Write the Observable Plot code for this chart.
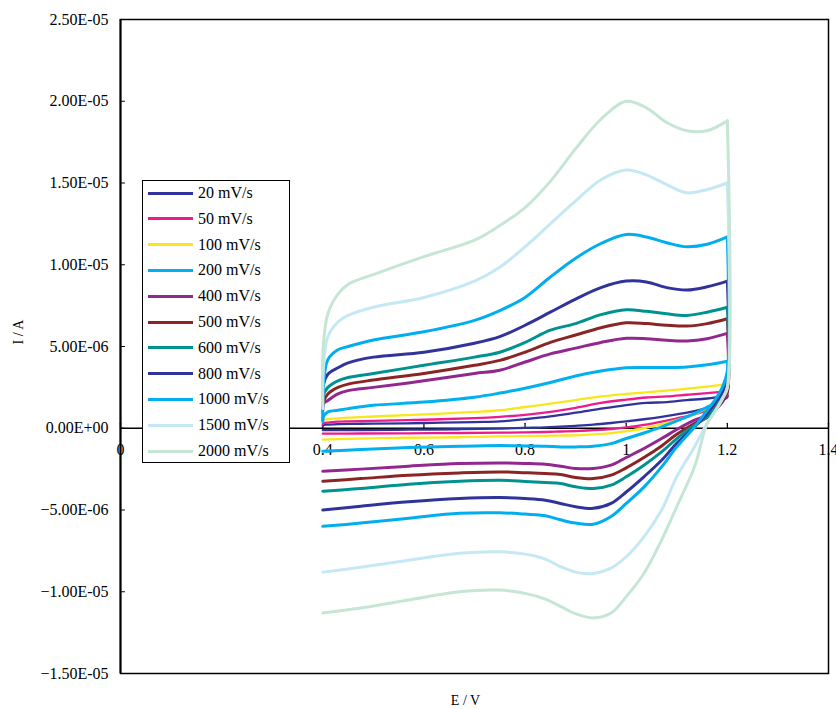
<!DOCTYPE html>
<html><head><meta charset="utf-8">
<script src="https://cdn.jsdelivr.net/npm/d3@7"></script>
<script src="https://cdn.jsdelivr.net/npm/@observablehq/plot@0.6"></script>
<style>
body{margin:0;background:#fff;}
#wrap{position:relative;width:836px;height:709px;}
#legend{position:absolute;left:142px;top:180px;width:148px;height:283px;border:1px solid #000;background:#fff;box-sizing:border-box;font-family:"Liberation Serif","Times New Roman",serif;font-size:16px;color:#000;}
.row{position:absolute;left:0;height:20px;display:flex;align-items:center;white-space:nowrap;}
.sw{width:45px;height:3px;margin-left:5px;margin-right:5px;}
</style>
</head><body><div id="wrap"><div id="legend"></div></div>
<script>
// Scan rates (legend) and colours
const rates = ["20 mV/s","50 mV/s","100 mV/s","200 mV/s","400 mV/s","500 mV/s","600 mV/s","800 mV/s","1000 mV/s","1500 mV/s","2000 mV/s"];
const colors = ["#30349a","#ec1c8c","#f8e71c","#00b0f0","#92278f","#8b2525","#00928f","#30349a","#00aeef","#c5e8f5","#c5e6d5"];

// Potentials (V) of the read points: forward (anodic) and reverse (cathodic) scans
const eUp   = [0.400,0.401,0.41,0.43,0.45,0.5,0.6,0.7,0.75,0.8,0.85,0.9,0.95,1.0,1.04,1.08,1.12,1.16,1.2];
const eDown = [1.2,1.19,1.175,1.16,1.135,1.1,1.07,1.035,1.0,0.97,0.935,0.9,0.87,0.84,0.8,0.75,0.67,0.57,0.475,0.4];

// Currents in units of 1E-06 A
const up20   = [0.15,0.2,0.22,0.25,0.27,0.28,0.32,0.38,0.42,0.55,0.72,0.95,1.2,1.42,1.55,1.6,1.72,1.82,2.0];
const down20 = [1.9,1.7,1.45,1.25,1.05,0.85,0.7,0.55,0.42,0.32,0.22,0.15,0.1,0.05,0.02,-0.02,-0.06,-0.09,-0.11,-0.12];
const up50   = [0.25,0.3,0.35,0.4,0.42,0.45,0.52,0.62,0.7,0.82,1.0,1.25,1.55,1.75,1.88,1.95,2.05,2.15,2.25];
const down50 = [2.0,1.7,1.35,1.1,0.85,0.6,0.4,0.2,0.05,-0.05,-0.12,-0.17,-0.2,-0.23,-0.25,-0.27,-0.29,-0.31,-0.32,-0.33];
const up100   = [0.4,0.5,0.55,0.6,0.65,0.72,0.85,1.0,1.1,1.3,1.5,1.72,1.95,2.1,2.2,2.3,2.42,2.55,2.7];
const down100 = [2.1,1.8,1.5,1.25,0.85,0.5,0.25,0.0,-0.18,-0.3,-0.38,-0.43,-0.45,-0.47,-0.48,-0.5,-0.55,-0.58,-0.63,-0.69];
const up200   = [0.4,0.7,1.0,1.1,1.2,1.4,1.6,1.9,2.15,2.45,2.8,3.2,3.5,3.7,3.72,3.72,3.75,3.88,4.1];
const down200 = [2.3,1.9,1.5,1.3,0.9,0.45,0.08,-0.29,-0.63,-0.94,-1.1,-1.14,-1.14,-1.1,-1.08,-1.06,-1.1,-1.18,-1.3,-1.41];
const up400   = [1.3,1.5,1.7,2.1,2.3,2.5,2.9,3.35,3.55,4.05,4.55,4.9,5.25,5.5,5.48,5.38,5.34,5.48,5.8];
const down400 = [2.2,1.6,1.1,0.79,0.49,-0.08,-0.63,-1.24,-1.79,-2.26,-2.46,-2.46,-2.32,-2.2,-2.15,-2.12,-2.16,-2.32,-2.5,-2.63];
const up500   = [1.1,1.6,2.1,2.5,2.7,2.95,3.35,3.85,4.15,4.65,5.25,5.7,6.15,6.45,6.4,6.3,6.25,6.4,6.7];
const down500 = [2.3,1.7,1.1,0.65,0.29,-0.37,-1.08,-1.79,-2.42,-2.87,-3.08,-3.01,-2.83,-2.77,-2.72,-2.67,-2.73,-2.87,-3.08,-3.24];
const up600   = [1.3,2.0,2.5,2.9,3.1,3.35,3.85,4.35,4.65,5.25,6.0,6.4,6.95,7.25,7.15,7.0,6.9,7.1,7.4];
const down600 = [2.5,1.8,1.2,0.69,0.18,-0.63,-1.45,-2.26,-2.97,-3.48,-3.69,-3.58,-3.38,-3.32,-3.25,-3.18,-3.24,-3.42,-3.69,-3.85];
const up800   = [1.6,2.6,3.3,3.7,4.0,4.35,4.65,5.2,5.6,6.3,7.1,7.9,8.6,9.0,8.95,8.6,8.45,8.65,9.0];
const down800 = [3.0,2.2,1.5,0.9,0.08,-0.92,-1.96,-2.97,-3.9,-4.6,-4.9,-4.8,-4.6,-4.4,-4.3,-4.24,-4.3,-4.5,-4.77,-5.0];
const up1000   = [0.5,2.5,4.2,4.8,5.0,5.4,5.9,6.6,7.2,8.0,9.25,10.4,11.3,11.85,11.7,11.35,11.1,11.25,11.7];
const down1000 = [3.5,2.5,1.7,1.1,0.08,-1.14,-2.36,-3.6,-4.6,-5.4,-5.87,-5.8,-5.6,-5.35,-5.25,-5.17,-5.2,-5.5,-5.8,-6.0];
const up1500   = [1.2,3.5,5.6,6.5,6.9,7.4,8.0,9.0,9.85,11.1,12.5,13.9,15.2,15.8,15.5,14.9,14.4,14.6,15.0];
const down1500 = [2.5,1.8,1.0,0.3,-1.14,-2.97,-5.0,-6.64,-7.86,-8.55,-8.88,-8.8,-8.47,-8.0,-7.7,-7.56,-7.65,-8.07,-8.5,-8.8];
const up2000   = [1.5,5.0,7.0,8.2,8.8,9.4,10.5,11.5,12.4,13.5,15.1,17.1,18.9,20.0,19.6,18.7,18.2,18.2,18.8];
const down2000 = [2.5,1.8,1.0,0.3,-2.36,-4.8,-6.84,-8.88,-10.3,-11.3,-11.6,-11.35,-10.9,-10.45,-10.1,-9.9,-10.0,-10.5,-11.0,-11.3];

// Axis ticks
const xTicks = [0,0.2,0.4,0.6,0.8,1,1.2,1.4];
const yTicks = [-15,-10,-5,0,5,10,15,20,25];

const ups = [up20,up50,up100,up200,up400,up500,up600,up800,up1000,up1500,up2000];
const downs = [down20,down50,down100,down200,down400,down500,down600,down800,down1000,down1500,down2000];

const fmtY = v => {
  if (v === 0) return "0.00E+00";
  const a = Math.abs(v) * 1e-6;
  const exp = Math.floor(Math.log10(a) + 1e-9);
  const m = a / Math.pow(10, exp);
  const s = m.toFixed(2) + "E" + (exp < 0 ? "-" : "+") + String(Math.abs(exp)).padStart(2, "0");
  return (v < 0 ? "\u2212" : "") + s;
};
const fmtX = v => String(v);

const font = "Liberation Serif, Times New Roman, serif";
const tickShape = {draw(ctx, l) { ctx.moveTo(0, 0); ctx.lineTo(0, -l); }};

const lineMarks = ups.flatMap((u, k) => {
  const upPts = eUp.map((e, j) => ({e, i: u[j]}));
  const downPts = [upPts[upPts.length - 1]].concat(eDown.map((e, j) => ({e, i: downs[k][j]})));
  const sw = k < 3 ? 2.3 : 3;
  return [
    Plot.line(upPts, {x: "e", y: "i", stroke: colors[k], strokeWidth: sw, curve: "catmull-rom"}),
    Plot.line(downPts, {x: "e", y: "i", stroke: colors[k], strokeWidth: sw, curve: "catmull-rom"})
  ];
});

const chart = Plot.plot({
  width: 836, height: 709,
  marginLeft: 120, marginRight: 8, marginTop: 19, marginBottom: 36,
  style: {fontFamily: font, fontSize: "16px", background: "#fff", overflow: "visible"},
  x: {domain: [0, 1.4]},
  y: {domain: [-15, 25]},
  marks: [
    Plot.axisY({ticks: yTicks, tickSize: 0, tickPadding: 12, tickFormat: fmtY, label: null, fontSize: 16}),
    Plot.axisX({ticks: [], label: null}),
    Plot.text(xTicks, {x: d => d, y: 0, dy: 22, text: fmtX, fontSize: 16}),
    Plot.text(["I / A"], {frameAnchor: "left", dx: -102, dy: -2, rotate: -90, fontSize: 14}),
    Plot.text(["E / V"], {frameAnchor: "bottom", dx: -9, dy: 31, fontSize: 14}),
    Plot.ruleY([0], {stroke: "#000", strokeWidth: 1.5}),
    Plot.vector(xTicks, {x: d => d, y: 0, length: 5, rotate: 0, anchor: "start", shape: tickShape, stroke: "#000", strokeWidth: 1.2}),
    Plot.vector(yTicks, {x: 0, y: d => d, length: 4, rotate: 90, anchor: "start", shape: tickShape, stroke: "#000", strokeWidth: 1.2}),
    ...lineMarks,
    Plot.frame({stroke: "#000", strokeWidth: 1.5}),
    Plot.ruleX([0], {stroke: "#000", strokeWidth: 2})
  ]
});
const wrap = document.getElementById("wrap");
wrap.insertBefore(chart, wrap.firstChild);

const legend = document.getElementById("legend");
rates.forEach((r, i) => {
  const row = document.createElement("div");
  row.className = "row";
  row.style.top = (193 + i * 25.8 - 180 - 1 - 10) + "px";
  const sw = document.createElement("div");
  sw.className = "sw";
  sw.style.background = colors[i];
  const t = document.createElement("span");
  t.textContent = r;
  row.appendChild(sw); row.appendChild(t);
  legend.appendChild(row);
});
</script>
</body></html>
